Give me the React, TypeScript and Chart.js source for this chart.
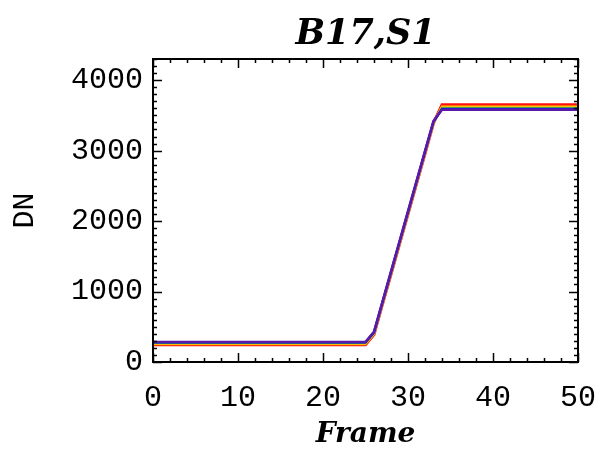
import React, { useEffect, useRef } from "react";
import { Chart, registerables } from "chart.js";

Chart.register(...registerables);

// ---- data ----
const FRAMES = [0, 25, 26, 27, 28, 29, 30, 31, 32, 33, 34, 50];
const SERIES_PURPLE = [285, 285, 430, 858, 1285, 1712, 2140, 2566, 2994, 3420, 3580, 3580];
const SERIES_BLUE = [279, 279, 421, 849, 1276, 1703, 2131, 2558, 2986, 3413, 3590, 3590];
const SERIES_GREEN = [270, 270, 412, 840, 1266, 1694, 2121, 2549, 2976, 3405, 3600, 3600];
const SERIES_YELLOW = [262, 262, 405, 834, 1260, 1688, 2115, 2543, 2970, 3400, 3610, 3610];
const SERIES_ORANGE = [255, 255, 398, 827, 1252, 1681, 2108, 2537, 2962, 3395, 3625, 3625];
const SERIES_RED = [246, 246, 390, 820, 1245, 1675, 2100, 2530, 2955, 3390, 3650, 3650];

const X_TICKS = [0, 10, 20, 30, 40, 50];
const Y_TICKS = [0, 1000, 2000, 3000, 4000];
const X_MIN = 0;
const X_MAX = 50;
const Y_MIN = 0;
const Y_MAX = 4300;
const X_MINOR = 2;
const Y_MINOR = 100;

const TITLE = "B17,S1";
const X_TITLE = "Frame";
const Y_TITLE = "DN";

const SERIES = [
  { values: SERIES_PURPLE, color: "#5a1aa8", width: 2.5 },
  { values: SERIES_BLUE, color: "#1010ff", width: 2.5 },
  { values: SERIES_GREEN, color: "#20c020", width: 2 },
  { values: SERIES_YELLOW, color: "#f0f000", width: 2 },
  { values: SERIES_ORANGE, color: "#ff9000", width: 2.5 },
  { values: SERIES_RED, color: "#ff1010", width: 3 },
];

const boxTicks = {
  id: "boxTicks",
  afterDatasetsDraw(chart: any) {
    const { ctx, chartArea: a, scales } = chart;
    const x = scales.x;
    const y = scales.y;
    ctx.save();
    ctx.strokeStyle = "#000";
    ctx.lineWidth = 1.5;
    ctx.beginPath();
    for (let v = X_MIN; v <= X_MAX + 1e-9; v += X_MINOR) {
      const px = Math.round(x.getPixelForValue(v)) + 0.5;
      const len = X_TICKS.includes(v) ? 9 : 4;
      ctx.moveTo(px, a.bottom);
      ctx.lineTo(px, a.bottom - len);
      ctx.moveTo(px, a.top);
      ctx.lineTo(px, a.top + len);
    }
    for (let v = Y_MIN; v <= Y_MAX + 1e-9; v += Y_MINOR) {
      const py = Math.round(y.getPixelForValue(v)) + 0.5;
      const len = Y_TICKS.includes(v) ? 9 : 4;
      ctx.moveTo(a.left, py);
      ctx.lineTo(a.left + len, py);
      ctx.moveTo(a.right, py);
      ctx.lineTo(a.right - len, py);
    }
    ctx.stroke();
    ctx.lineWidth = 2;
    ctx.strokeRect(a.left, a.top, a.right - a.left, a.bottom - a.top);
    ctx.restore();
  },
};

const tickFont = { family: "Liberation Mono", size: 30, lineHeight: 1 };

export default function App() {
  const ref = useRef<HTMLCanvasElement | null>(null);

  useEffect(() => {
    if (!ref.current) return;
    const chart = new Chart(ref.current, {
      type: "line",
      data: {
        datasets: SERIES.map((s) => ({
          data: FRAMES.map((f, i) => ({ x: f, y: s.values[i] })),
          borderColor: s.color,
          backgroundColor: s.color,
          borderWidth: s.width,
          pointRadius: 0,
          tension: 0,
          fill: false,
        })),
      },
      options: {
        animation: false,
        responsive: false,
        layout: { padding: { left: 0, right: 23, top: 0, bottom: 0 } },
        plugins: {
          legend: { display: false },
          tooltip: { enabled: false },
          title: {
            display: true,
            text: TITLE,
            fullSize: false,
            color: "#000",
            font: { family: "DejaVu Serif", style: "italic", weight: "bold", size: 35, lineHeight: 1.2 },
            padding: { top: 14, bottom: 3 },
          },
        },
        scales: {
          x: {
            type: "linear",
            min: X_MIN,
            max: X_MAX,
            afterBuildTicks: (s: any) => {
              s.ticks = X_TICKS.map((v) => ({ value: v }));
            },
            afterFit: (s: any) => {
              s.height = 88;
              s.paddingLeft = 0;
              s.paddingRight = 0;
            },
            grid: { display: false, drawTicks: false },
            border: { display: false },
            ticks: {
              color: "#000",
              font: tickFont,
              padding: 21,
              maxRotation: 0,
              autoSkip: false,
              callback: (v: any) => String(v),
            },
            title: {
              display: true,
              text: X_TITLE,
              color: "#000",
              font: { family: "DejaVu Serif", style: "italic", weight: "bold", size: 28, lineHeight: 1 },
              padding: { top: 0, bottom: 1 },
            },
          },
          y: {
            type: "linear",
            min: Y_MIN,
            max: Y_MAX,
            afterBuildTicks: (s: any) => {
              s.ticks = Y_TICKS.map((v) => ({ value: v }));
            },
            afterFit: (s: any) => {
              s.width = 153;
              s.paddingTop = 0;
              s.paddingBottom = 0;
            },
            grid: { display: false, drawTicks: false },
            border: { display: false },
            ticks: {
              color: "#000",
              font: tickFont,
              padding: 10,
              autoSkip: false,
              callback: (v: any) => String(v),
            },
            title: {
              display: true,
              text: Y_TITLE,
              color: "#000",
              font: { family: "Liberation Mono", size: 30, lineHeight: 1 },
              padding: { top: 10, bottom: 0 },
            },
          },
        },
      } as any,
      plugins: [boxTicks],
    });
    return () => chart.destroy();
  }, []);

  return (
    <div style={{ position: "fixed", left: 0, top: 0, width: 601, height: 450, background: "#fff" }}>
      <canvas ref={ref} width={601} height={450} style={{ display: "block" }} />
    </div>
  );
}
